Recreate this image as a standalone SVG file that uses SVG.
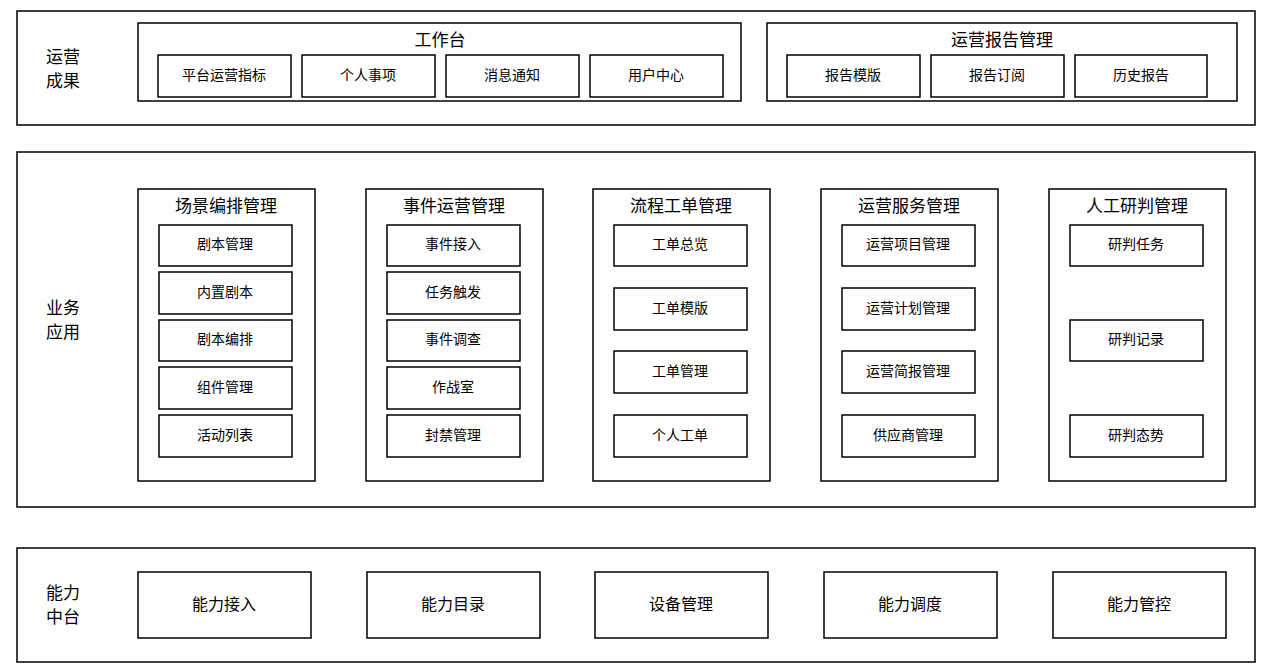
<svg xmlns="http://www.w3.org/2000/svg" width="1269" height="670" viewBox="0 0 1269 670">
<style>
rect{fill:#fff;stroke:#000;stroke-width:1.5}
text{font-family:"Noto Sans CJK SC","Liberation Sans",sans-serif;text-anchor:middle;dominant-baseline:central;fill:#000;transform:translateY(-2px)}
.i{font-size:14px}.t{font-size:17px}.l{font-size:17px}.b{font-size:16px}
</style>
<rect width="1269" height="670" style="stroke:none"/>
<g id="row1">
<rect x="17" y="11" width="1238" height="114"/>
<text class="l" x="63" y="57">运营</text><text class="l" x="63" y="81">成果</text>
<g id="workbench"><rect x="138" y="23" width="603" height="78"/><text class="t" x="440" y="40">工作台</text>
<rect x="158" y="55" width="133" height="42"/><text class="i" x="224" y="76">平台运营指标</text>
<rect x="302" y="55" width="133" height="42"/><text class="i" x="368" y="76">个人事项</text>
<rect x="446" y="55" width="133" height="42"/><text class="i" x="512" y="76">消息通知</text>
<rect x="590" y="55" width="133" height="42"/><text class="i" x="656" y="76">用户中心</text></g>
<g id="report"><rect x="767" y="23" width="470" height="78"/><text class="t" x="1002" y="40">运营报告管理</text>
<rect x="787" y="55" width="133" height="42"/><text class="i" x="853" y="76">报告模版</text>
<rect x="931" y="55" width="133" height="42"/><text class="i" x="997" y="76">报告订阅</text>
<rect x="1075" y="55" width="132" height="42"/><text class="i" x="1141" y="76">历史报告</text></g>
</g>
<g id="row2">
<rect x="17" y="152" width="1238" height="355"/>
<text class="l" x="63" y="308">业务</text><text class="l" x="63" y="332">应用</text>
<g id="c1"><rect x="138" y="189" width="177" height="292"/><text class="t" x="226" y="206">场景编排管理</text>
<rect x="159" y="225" width="133" height="41"/><text class="i" x="225" y="245">剧本管理</text>
<rect x="159" y="272" width="133" height="42"/><text class="i" x="225" y="293">内置剧本</text>
<rect x="159" y="320" width="133" height="41"/><text class="i" x="225" y="340">剧本编排</text>
<rect x="159" y="367" width="133" height="42"/><text class="i" x="225" y="388">组件管理</text>
<rect x="159" y="415" width="133" height="42"/><text class="i" x="225" y="436">活动列表</text></g>
<g id="c2"><rect x="366" y="189" width="177" height="292"/><text class="t" x="454" y="206">事件运营管理</text>
<rect x="387" y="225" width="133" height="41"/><text class="i" x="453" y="245">事件接入</text>
<rect x="387" y="272" width="133" height="42"/><text class="i" x="453" y="293">任务触发</text>
<rect x="387" y="320" width="133" height="41"/><text class="i" x="453" y="340">事件调查</text>
<rect x="387" y="367" width="133" height="42"/><text class="i" x="453" y="388">作战室</text>
<rect x="387" y="415" width="133" height="42"/><text class="i" x="453" y="436">封禁管理</text></g>
<g id="c3"><rect x="593" y="189" width="177" height="292"/><text class="t" x="681" y="206">流程工单管理</text>
<rect x="614" y="225" width="133" height="41"/><text class="i" x="680" y="245">工单总览</text>
<rect x="614" y="288" width="133" height="42"/><text class="i" x="680" y="309">工单模版</text>
<rect x="614" y="351" width="133" height="42"/><text class="i" x="680" y="372">工单管理</text>
<rect x="614" y="415" width="133" height="42"/><text class="i" x="680" y="436">个人工单</text></g>
<g id="c4"><rect x="821" y="189" width="177" height="292"/><text class="t" x="909" y="206">运营服务管理</text>
<rect x="842" y="225" width="133" height="41"/><text class="i" x="908" y="245">运营项目管理</text>
<rect x="842" y="288" width="133" height="42"/><text class="i" x="908" y="309">运营计划管理</text>
<rect x="842" y="351" width="133" height="42"/><text class="i" x="908" y="372">运营简报管理</text>
<rect x="842" y="415" width="133" height="42"/><text class="i" x="908" y="436">供应商管理</text></g>
<g id="c5"><rect x="1049" y="189" width="177" height="292"/><text class="t" x="1137" y="206">人工研判管理</text>
<rect x="1070" y="225" width="133" height="41"/><text class="i" x="1136" y="245">研判任务</text>
<rect x="1070" y="320" width="133" height="41"/><text class="i" x="1136" y="340">研判记录</text>
<rect x="1070" y="415" width="133" height="42"/><text class="i" x="1136" y="436">研判态势</text></g>
</g>
<g id="row3">
<rect x="17" y="548" width="1238" height="114"/>
<text class="l" x="63" y="593">能力</text><text class="l" x="63" y="617">中台</text>
<g id="n1"><rect x="138" y="572" width="173" height="66"/><text class="b" x="224" y="605">能力接入</text></g>
<g id="n2"><rect x="367" y="572" width="173" height="66"/><text class="b" x="453" y="605">能力目录</text></g>
<g id="n3"><rect x="595" y="572" width="173" height="66"/><text class="b" x="681" y="605">设备管理</text></g>
<g id="n4"><rect x="824" y="572" width="173" height="66"/><text class="b" x="910" y="605">能力调度</text></g>
<g id="n5"><rect x="1053" y="572" width="173" height="66"/><text class="b" x="1139" y="605">能力管控</text></g>
</g>
<g id="connectors"/>
</svg>
